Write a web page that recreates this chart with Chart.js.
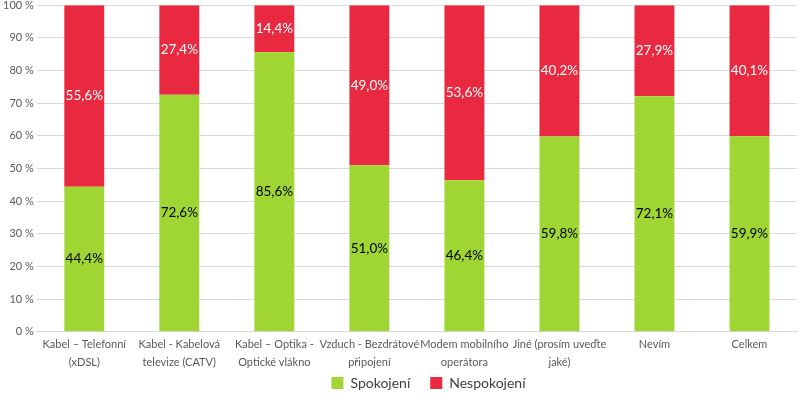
<!DOCTYPE html>
<html>
<head>
<meta charset="utf-8">
<script src="https://cdn.jsdelivr.net/npm/chart.js@4"></script>
<style>
  html, body { margin: 0; padding: 0; background: #fff; }
  #wrap { width: 800px; height: 395px; }
</style>
</head>
<body>
<div id="wrap"><canvas id="chart"></canvas></div>
<script>
const categories = [
  ['Kabel – Telefonní', '(xDSL)'],
  ['Kabel - Kabelová', 'televize (CATV)'],
  ['Kabel – Optika -', 'Optické vlákno'],
  ['Vzduch - Bezdrátové', 'připojení'],
  ['Modem mobilního', 'operátora'],
  ['Jiné (prosím uveďte', 'jaké)'],
  'Nevím',
  'Celkem'
];
const spokojeni = [44.4, 72.6, 85.6, 51.0, 46.4, 59.8, 72.1, 59.9];
const nespokojeni = [55.6, 27.4, 14.4, 49.0, 53.6, 40.2, 27.9, 40.1];

const font = 'Lato, "Open Sans", sans-serif';

// labels in the middle of every segment
const segmentLabels = {
  id: 'segmentLabels',
  afterDatasetsDraw(chart) {
    const ctx = chart.ctx;
    ctx.save();
    ctx.font = '13.5px ' + font;
    ctx.textAlign = 'center';
    ctx.textBaseline = 'middle';
    chart.data.datasets.forEach((ds, i) => {
      const meta = chart.getDatasetMeta(i);
      meta.data.forEach((bar, j) => {
        const mid = (bar.y + bar.base) / 2;
        ctx.fillStyle = i === 0 ? '#000' : '#fff';
        ctx.fillText(ds.data[j].toFixed(1).replace('.', ',') + '%', bar.x, mid);
      });
    });
    ctx.restore();
  }
};

// keep the wide gap between legend items but make the legend box short,
// and move it a bit right like in the original
const legendTweak = {
  id: 'legendTweak',
  afterInit(chart) {
    const lg = chart.legend;
    const fit = lg.fit;
    lg.fit = function () {
      fit.call(this);
      this.height = 19;
    };
  },
  afterLayout(chart) {
    const lg = chart.legend;
    lg.left += 30;
    lg.right += 30;
    lg.top -= 20;
    lg.bottom = chart.height;
  }
};

new Chart(document.getElementById('chart'), {
  type: 'bar',
  data: {
    labels: categories,
    datasets: [
      { label: 'Spokojení', data: spokojeni, backgroundColor: '#9FD634',
        categoryPercentage: 1, barPercentage: 0.42 },
      { label: 'Nespokojení', data: nespokojeni, backgroundColor: '#E92940',
        categoryPercentage: 1, barPercentage: 0.42 }
    ]
  },
  options: {
    responsive: true,
    maintainAspectRatio: false,
    animation: false,
    layout: { padding: { top: 0, right: 3, left: 0, bottom: 0 } },
    plugins: {
      legend: {
        position: 'bottom',
        labels: { font: { family: font, size: 14 }, color: '#404040',
          boxWidth: 12, boxHeight: 12, padding: 20 }
      },
      tooltip: { enabled: false }
    },
    scales: {
      x: {
        stacked: true,
        grid: { display: false, drawTicks: false },
        border: { color: '#d9d9d9' },
        ticks: { font: { family: font, size: 11, lineHeight: 1.65 }, color: '#595959',
          maxRotation: 0, autoSkip: false, padding: 4 }
      },
      y: {
        stacked: true,
        min: 0, max: 100,
        ticks: { stepSize: 10, callback: v => v + ' %', font: { family: font, size: 11, lineHeight: 0.4 }, color: '#595959' },
        grid: { color: '#d9d9d9', drawTicks: false },
        border: { display: false }
      }
    }
  },
  plugins: [segmentLabels, legendTweak]
});
</script>
</body>
</html>
